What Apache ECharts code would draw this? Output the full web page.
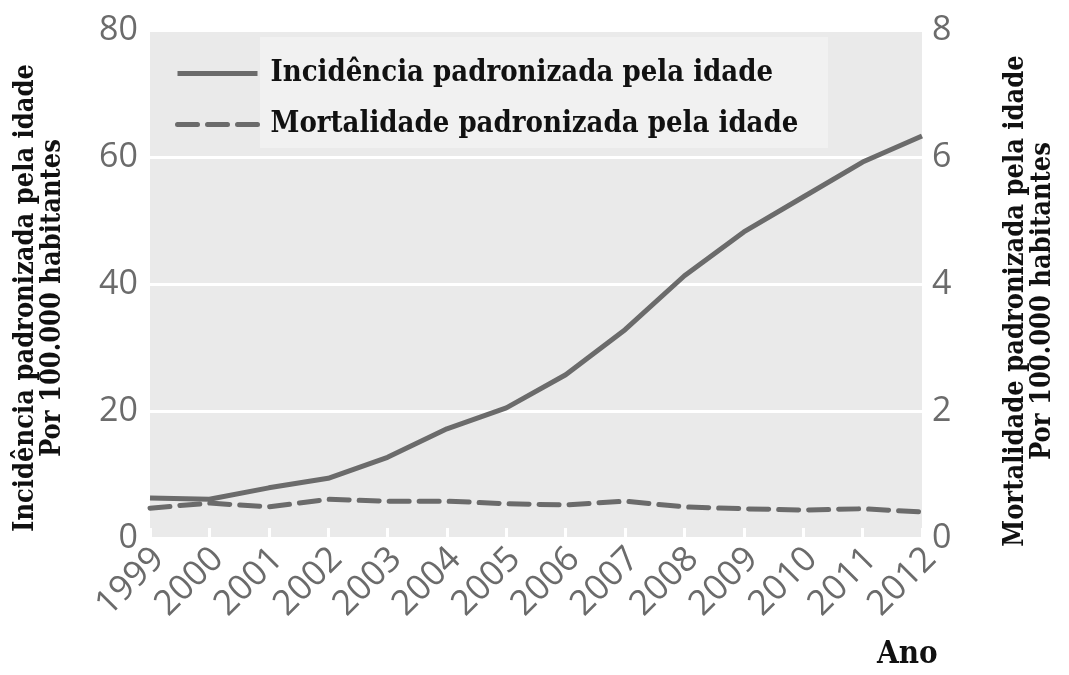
<!DOCTYPE html>
<html>
<head>
<meta charset="utf-8">
<script src="https://cdn.jsdelivr.net/npm/echarts@6/dist/echarts.min.js"></script>
<style>
  html, body { margin: 0; padding: 0; background: #fff; }
  #chart { width: 1069px; height: 675px; }
</style>
</head>
<body>
<div id="chart"></div>
<script>
var years = ['1999', '2000', '2001', '2002', '2003', '2004', '2005', '2006', '2007', '2008', '2009', '2010', '2011', '2012'];
var incidencia = [6.3, 6.1, 7.9, 9.4, 12.7, 17.2, 20.5, 25.7, 32.8, 41.3, 48.2, 53.7, 59.2, 63.3];
var mortalidade = [0.47, 0.55, 0.49, 0.61, 0.58, 0.58, 0.54, 0.52, 0.58, 0.49, 0.46, 0.44, 0.46, 0.41];
var leftTicks = [0, 80, 20];   // min, max, interval
var rightTicks = [0, 8, 2];

var lineColor = '#6b6b6b';
var serif = '"DejaVu Serif Condensed", "Liberation Serif", serif';
var sans = '"Open Sans", "Noto Sans", sans-serif';

var chart = echarts.init(document.getElementById('chart'));

chart.setOption({
  animation: false,
  grid: {
    left: 150,
    right: 147,
    top: 30,
    bottom: 137,
    show: true,
    backgroundColor: '#eaeaea',
    borderWidth: 0
  },
  legend: {
    orient: 'vertical',
    left: 170,
    top: 54,
    itemWidth: 80,
    itemHeight: 14,
    itemGap: 22,
    data: ['Incidência padronizada pela idade', 'Mortalidade padronizada pela idade'],
    itemStyle: {opacity: 0},
    lineStyle: {width: 5},
    textStyle: {
      fontFamily: serif,
      fontWeight: 'bold',
      fontSize: 29,
      color: '#111',
      padding: [0, 0, 0, 8]
    }
  },
  xAxis: {
    type: 'category',
    data: years,
    boundaryGap: false,
    axisLine: {show: false},
    axisTick: {
      show: true,
      inside: true,
      length: 10,
      interval: 0,
      lineStyle: {color: '#fff', width: 3}
    },
    axisLabel: {
      interval: 0,
      hideOverlap: false,
      rotate: 45,
      margin: 7,
      verticalAlign: 'top',
      lineHeight: 24,
      fontFamily: sans,
      fontSize: 35,
      color: '#6b6b6b'
    },
    splitLine: {show: false}
  },
  yAxis: [
    {
      type: 'value',
      min: leftTicks[0],
      max: leftTicks[1],
      interval: leftTicks[2],
      position: 'left',
      axisLine: {show: false},
      axisTick: {show: false},
      axisLabel: {
        margin: 12,
        fontFamily: sans,
        fontSize: 34,
        color: '#6b6b6b'
      },
      splitLine: {lineStyle: {color: '#fff', width: 3}},
      name: 'Incidência padronizada pela idade\nPor 100.000 habitantes',
      nameLocation: 'middle',
      nameRotate: 90,
      nameGap: 84,
      nameTextStyle: {
        fontFamily: serif,
        fontWeight: 'bold',
        fontSize: 27,
        lineHeight: 27,
        color: '#111',
        padding: [0, 28, 0, 0]
      }
    },
    {
      type: 'value',
      min: rightTicks[0],
      max: rightTicks[1],
      interval: rightTicks[2],
      position: 'right',
      axisLine: {show: false},
      axisTick: {show: false},
      axisLabel: {
        margin: 10,
        fontFamily: sans,
        fontSize: 34,
        color: '#6b6b6b'
      },
      splitLine: {show: false},
      name: 'Mortalidade padronizada pela idade\nPor 100.000 habitantes',
      nameLocation: 'middle',
      nameRotate: 90,
      nameGap: 80,
      nameTextStyle: {
        fontFamily: serif,
        fontWeight: 'bold',
        fontSize: 27,
        lineHeight: 27,
        color: '#111',
        padding: [0, 34, 0, 0]
      }
    }
  ],
  graphic: [
    {
      type: 'rect',
      z: 1,
      shape: {x: 260, y: 37, width: 568, height: 111},
      style: {fill: '#f1f1f1'},
      silent: true
    },
    {
      type: 'text',
      left: 877,
      top: 639,
      style: {
        text: 'Ano',
        fontFamily: serif,
        fontWeight: 'bold',
        fontSize: 31,
        fill: '#111'
      },
      silent: true
    }
  ],
  series: [
    {
      name: 'Incidência padronizada pela idade',
      type: 'line',
      yAxisIndex: 0,
      data: incidencia,
      symbol: 'none',
      z: 3,
      itemStyle: {color: lineColor},
      lineStyle: {color: lineColor, width: 5}
    },
    {
      name: 'Mortalidade padronizada pela idade',
      type: 'line',
      yAxisIndex: 1,
      data: mortalidade,
      symbol: 'none',
      z: 3,
      itemStyle: {color: lineColor},
      lineStyle: {color: lineColor, width: 5, type: [20, 10], cap: 'round'}
    }
  ]
});
</script>
</body>
</html>
